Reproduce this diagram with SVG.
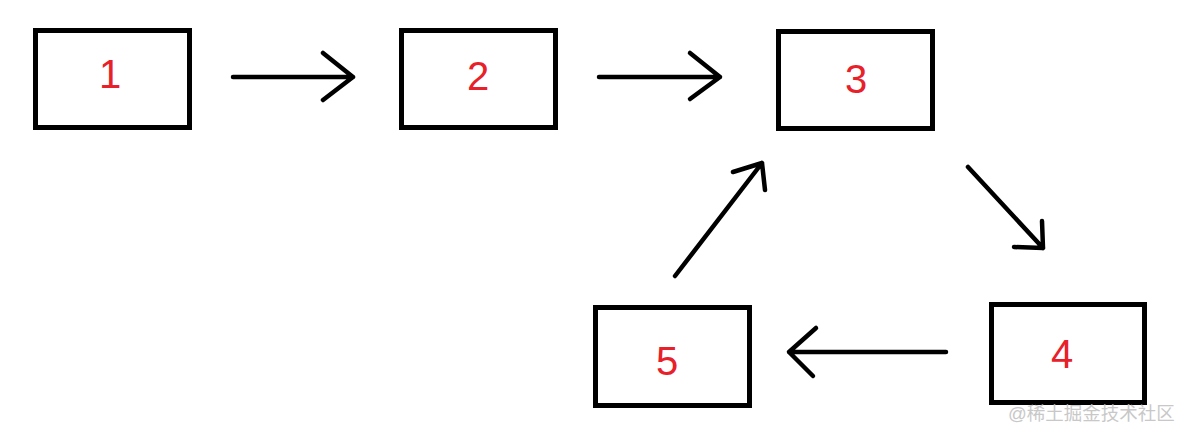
<svg xmlns="http://www.w3.org/2000/svg" width="1186" height="439" viewBox="0 0 1186 439">
<style>
.box{fill:#fff;stroke:#000;stroke-width:5}
.num{font-family:"Liberation Sans","DejaVu Sans",sans-serif;font-size:40px;fill:#e8202a;text-anchor:middle}
.arr{fill:none;stroke:#000;stroke-width:4.5;stroke-linecap:round;stroke-linejoin:round}
.wm{font-family:"Liberation Sans","Noto Sans CJK SC",sans-serif;font-size:18.5px;fill:#c8c8c8}
</style>
<rect width="1186" height="439" fill="#fff"/>
<g id="node1"><rect class="box" x="35.5" y="30.5" width="154" height="97"/><text class="num" x="110" y="88">1</text></g>
<g id="node2"><rect class="box" x="401.5" y="30.5" width="154" height="97"/><text class="num" x="478" y="90">2</text></g>
<g id="node3"><rect class="box" x="778.5" y="31.5" width="154" height="97"/><text class="num" x="856" y="93">3</text></g>
<g id="node4"><rect class="box" x="991.5" y="304.5" width="153" height="98"/><text class="num" x="1062" y="368">4</text></g>
<g id="node5"><rect class="box" x="595.5" y="307.5" width="154" height="98"/><text class="num" x="667" y="375">5</text></g>
<g id="connectors">
<path class="arr" d="M233 77H353M323 53L353 77L323 100"/>
<path class="arr" d="M599 77H720M690 53L720 77L690 99"/>
<path class="arr" d="M968 167L1043 248M1042 221L1043 248L1014 247"/>
<path class="arr" d="M675 276L762 163M733 172L762 163L765 190"/>
<path class="arr" d="M946 352H789M816 328L789 352L813 376"/>
</g>
<text class="wm" x="1008" y="420">@稀土掘金技术社区</text>
</svg>
